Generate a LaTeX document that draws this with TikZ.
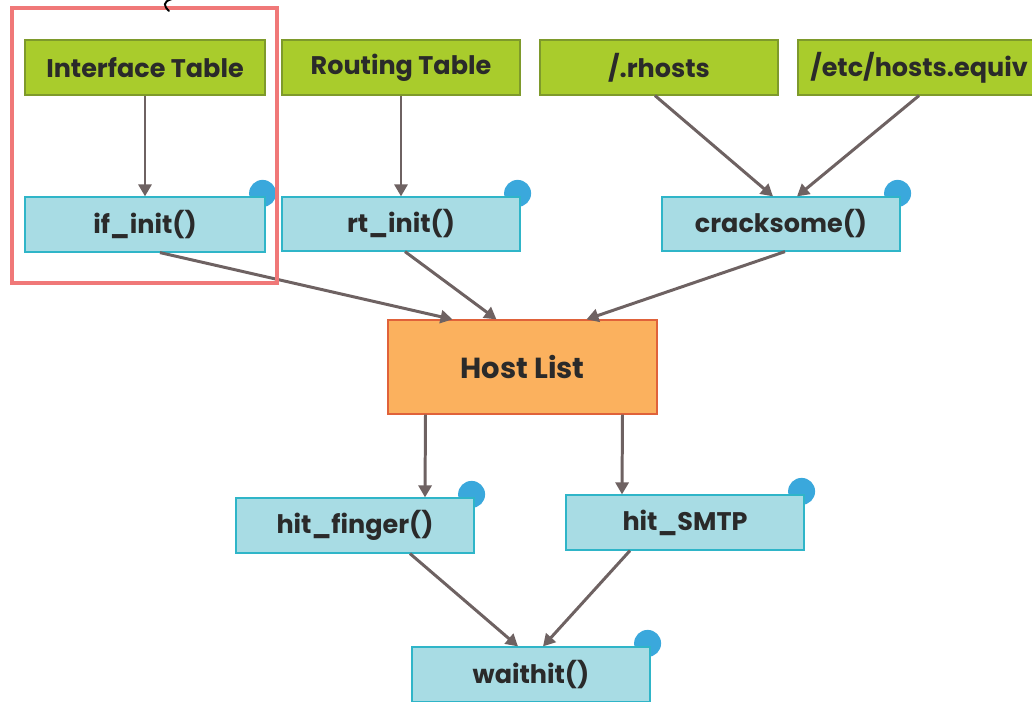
\documentclass[tikz,border=0pt]{standalone}
\usepackage{fontspec}
\setmainfont{Poppins}
\usetikzlibrary{arrows.meta,calc,backgrounds}

\definecolor{tabfill}{HTML}{A9CC2C}
\definecolor{tabline}{HTML}{7E9A2B}
\definecolor{fnfill}{HTML}{A8DCE4}
\definecolor{fnline}{HTML}{2FB5C8}
\definecolor{hostfill}{HTML}{FBB15E}
\definecolor{hostline}{HTML}{E0623A}
\definecolor{dotblue}{HTML}{3AA8DC}
\definecolor{arrowgray}{HTML}{6E6262}
\definecolor{framered}{HTML}{F07878}
\definecolor{txt}{HTML}{2A2A2A}

\tikzset{
  box/.style={draw, line width=0.7pt, inner sep=0pt, text=txt,
    font=\fontsize{14.5}{16}\selectfont\bfseries},
  tabbox/.style={box, fill=tabfill, draw=tabline, minimum height=1.1cm},
  fnbox/.style={box, fill=fnfill, draw=fnline, minimum width=4.76cm, minimum height=1.08cm},
  hostbox/.style={box, fill=hostfill, draw=hostline, minimum width=5.38cm, minimum height=1.88cm,
    font=\fontsize{16.5}{18}\selectfont\bfseries},
  arr/.style={draw=arrowgray, line width=1.7pt, -{Triangle[length=0.24cm,width=0.26cm]}},
  corner/.style={fill=dotblue},
}

\begin{document}
\begin{tikzpicture}[x=0.02cm,y=-0.02cm]
        \clip (0,0) rectangle (1032,702);
        % Tables
        \node[tabbox, minimum width=4.8cm] (itab) at (145,67.5) {Interface Table};
        \node[tabbox, minimum width=4.76cm] (rtab) at (401,67.5) {Routing Table};
        \node[tabbox, minimum width=4.76cm] (rhosts) at (659,67.5) {/.rhosts};
        \node[tabbox, minimum width=4.84cm] (hequiv) at (919,67.5) {/etc/hosts.equiv};
        % Functions
        \node[fnbox, minimum width=4.8cm, minimum height=1.1cm] (ifinit) at (145,224.5) {if\_init()};
        \node[fnbox] (rtinit) at (401,224) {rt\_init()};
        \node[fnbox] (crack) at (781,224) {cracksome()};
        \node[hostbox] (host) at (522.5,367) {Host List};
        \node[fnbox, minimum height=1.1cm] (finger) at (355,525.5) {hit\_finger()};
        \node[fnbox, minimum height=1.1cm] (smtp) at (685,522.5) {hit\_SMTP};
        \node[fnbox, minimum height=1.1cm] (wait) at (531,674.5) {waithit()};
        % Dots
        \begin{scope}[on background layer]
          \fill[white] (0,0) rectangle (1032,702);
          \foreach \n in {ifinit,rtinit,crack,finger,smtp,wait}
            \fill[corner] ($(\n.north east)+(-3,-3)$) circle (0.27cm);
        \end{scope}
        % Arrows
        \draw[arr] (itab) -- (ifinit);
        \draw[arr] (rtab) -- (rtinit);
        \draw[arr] ($(rhosts.south)+(-4,0)$) -- ($(crack.north)+(-8,0)$);
        \draw[arr] (hequiv.south) -- ($(crack.north)+(16,0)$);
        \draw[arr] ($(ifinit.south)+(15,0)$) -- ($(host.north)+(-70,0)$);
        \draw[arr] ($(rtinit.south)+(4,0)$) -- ($(host.north)+(-26,0)$);
        \draw[arr] ($(crack.south)+(4,0)$) -- ($(host.north)+(64,0)$);
        \draw[arr] ($(host.south)+(-97,0)$) -- ($(finger.north)+(70,0)$);
        \draw[arr] ($(host.south)+(100,0)$) -- ($(smtp.north)+(-63,0)$);
        \draw[arr] ($(finger.south)+(55,0)$) -- ($(wait.north)+(-13,0)$);
        \draw[arr] ($(smtp.south)+(-55,0)$) -- ($(wait.north)+(12,0)$);
        % Highlight
        \draw[framered, line width=0.08cm] (12,8) rectangle (277,283);
        \draw[black, line width=1.1pt, line cap=round] (172,-1) .. controls (162,2) and (164,6) .. (169,11);
      \end{tikzpicture}
\end{document}
